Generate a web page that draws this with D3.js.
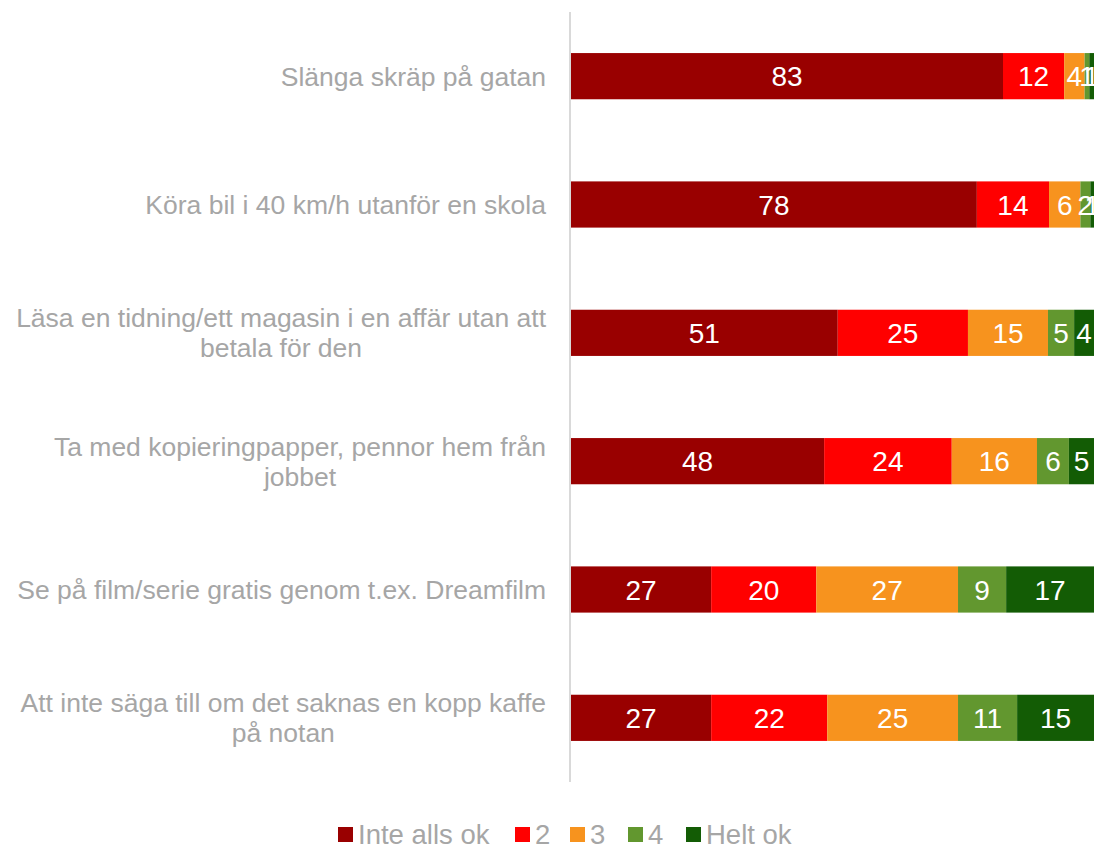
<!DOCTYPE html>
<html><head><meta charset="utf-8">
<script src="https://cdn.jsdelivr.net/npm/d3@7"></script>
<style>body{margin:0;background:#fff;} svg{display:block;}</style>
</head><body>
<svg id="c" width="1094" height="845"></svg>
<script>
const categories = [
  ["Slänga skräp på gatan"],
  ["Köra bil i 40 km/h utanför en skola"],
  ["Läsa en tidning/ett magasin i en affär utan att", "betala för den"],
  ["Ta med kopieringpapper, pennor hem från", "jobbet"],
  ["Se på film/serie gratis genom t.ex. Dreamfilm"],
  ["Att inte säga till om det saknas en kopp kaffe", "på notan"]
];
const seriesNames = ["Inte alls ok", "2", "3", "4", "Helt ok"];
const seriesColors = ["#990000", "#ff0000", "#f7931e", "#62972f", "#135c05"];
// estimated percentages (labels show rounded values)
const s1 = [82.6, 77.6, 51.0, 48.4, 26.8, 26.8];
const s2 = [11.7, 13.8, 24.9, 24.4, 20.1, 22.2];
const s3 = [3.9, 6.0, 15.3, 16.3, 27.1, 25.0];
const s4 = [0.9, 1.9, 5.0, 6.1, 9.2, 11.3];
const s5 = [0.9, 0.7, 3.8, 4.8, 16.8, 14.7];

const seriesVals = [s1, s2, s3, s4, s5];
const rows = categories.map((c, i) => {
  const o = {idx: i};
  seriesNames.forEach((n, j) => o[n] = seriesVals[j][i]);
  return o;
});

const FONT = "Liberation Sans, Arial, sans-serif";
const svg = d3.select("#c");
const x = d3.scaleLinear().domain([0, 100]).range([571, 1094]);
const y = d3.scaleBand().domain(d3.range(categories.length)).range([12, 782]).paddingInner(0.64).paddingOuter(0.32);

const stack = d3.stack().keys(seriesNames)(rows);

const g = svg.append("g");
stack.forEach((layer, j) => {
  const lg = g.append("g").attr("fill", seriesColors[j]);
  lg.selectAll("rect").data(layer).join("rect")
    .attr("x", d => x(d[0]))
    .attr("width", d => x(d[1]) - x(d[0]))
    .attr("y", (d, i) => y(i))
    .attr("height", y.bandwidth());
});
stack.forEach((layer, j) => {
  g.append("g").selectAll("text").data(layer).join("text")
    .attr("x", d => (x(d[0]) + x(d[1])) / 2)
    .attr("y", (d, i) => y(i) + y.bandwidth() / 2)
    .attr("dy", "0.36em")
    .attr("text-anchor", "middle")
    .attr("fill", "#fff")
    .attr("font-family", FONT)
    .attr("font-size", 28)
    .text(d => Math.round(d[1] - d[0]));
});

// axis line
svg.append("line").attr("x1", 570).attr("x2", 570).attr("y1", 12).attr("y2", 782)
  .attr("stroke", "#d9d9d9").attr("stroke-width", 2);

// category labels
const lab = svg.append("g").attr("font-family", FONT)
  .attr("font-size", 26.5).attr("fill", "#a6a6a6");
categories.forEach((lines, i) => {
  const cy = y(i) + y.bandwidth() / 2;
  const widths = lines.map(l => {
    const tt = lab.append("text").text(l);
    const w = tt.node().getComputedTextLength();
    tt.remove();
    return w;
  });
  const maxW = d3.max(widths);
  const cx = 546 - maxW / 2;
  const n = lines.length;
  const t = lab.append("text").attr("text-anchor", "middle");
  lines.forEach((l, k) => {
    t.append("tspan").attr("x", cx).attr("y", cy + (k - (n - 1) / 2) * 30).attr("dy", "0.36em").text(l);
  });
});

// legend
const legX = [338, 515, 570, 628, 686];
const leg = svg.append("g").attr("font-family", FONT).attr("font-size", 27.5).attr("fill", "#a6a6a6");
seriesNames.forEach((n, j) => {
  leg.append("rect").attr("x", legX[j]).attr("y", 827).attr("width", 15).attr("height", 15).attr("fill", seriesColors[j]);
  leg.append("text").attr("x", legX[j] + 20).attr("y", 834).attr("dy", "0.36em").text(n);
});
</script>
</body></html>
